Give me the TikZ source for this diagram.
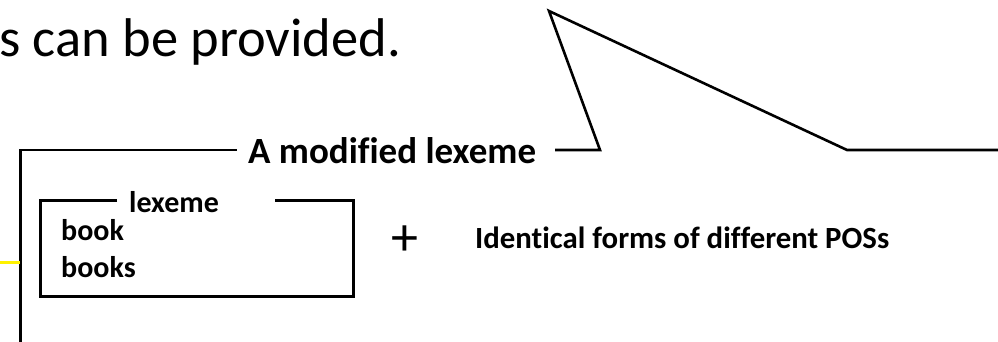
\documentclass[tikz,border=0pt]{standalone}
\usepackage{fontspec}
\setmainfont[Ligatures=NoCommon]{Carlito}
\begin{document}
\begin{tikzpicture}[x=1pt,y=-1pt,
  frameline/.style={line width=2.6pt, line join=miter},
  boxline/.style={line width=3pt},
  lbl/.style={inner sep=0pt, anchor=base west, font=\bfseries\fontsize{30}{34}\selectfont}]
\useasboundingbox (0,0) rectangle (998,342);
% top text
\node[inner sep=0pt, anchor=base west, font=\fontsize{54.5}{60}\selectfont] (title) at (-1,57) {s can be provided.};
% outer frame with callout
\node[inner sep=0pt, anchor=base west, font=\bfseries\fontsize{37}{40}\selectfont] (mod) at (248,163) {A modified lexeme};
\coordinate (fl) at (20.7,342);
\coordinate (ftl) at (20.7,150);
\coordinate (fa) at (237,150);
\coordinate (fb) at (555,150);
\coordinate (c1) at (600,150);
\coordinate (apex) at (549,11);
\coordinate (c2) at (847,150);
\coordinate (fr) at (999,150);
\draw[frameline] (fl) -- (ftl) -- (fa);
\draw[frameline] (fb) -- (c1) -- (apex) -- (c2) -- (fr);
% inner lexeme box
\node[lbl] (lex) at (129,212) {lexeme};
\coordinate (ba) at (117,200);
\coordinate (bbl) at (40.7,296.5);
\coordinate (bbr) at (353,296.5);
\coordinate (btr) at (353,200);
\coordinate (bb) at (275,200);
\draw[boxline] (ba) -| (bbl) -- (bbr) -- (btr) -- (bb);
\node[lbl] (book) at (61,240) {book};
\node[lbl] (books) at (61,277) {books};
% plus
\node[inner sep=0pt, font=\fontsize{54}{58}\selectfont] (plus) at (404.5,241) {+};
\node[lbl, font=\bfseries\fontsize{30.8}{34}\selectfont] (ident) at (475,248) {Identical forms of different POSs};
% yellow stub
\coordinate (y0) at (0,262);
\coordinate (y1) at (19.5,262);
\draw[yellow, line width=3pt] (y0) -- (y1);
\end{tikzpicture}
\end{document}
